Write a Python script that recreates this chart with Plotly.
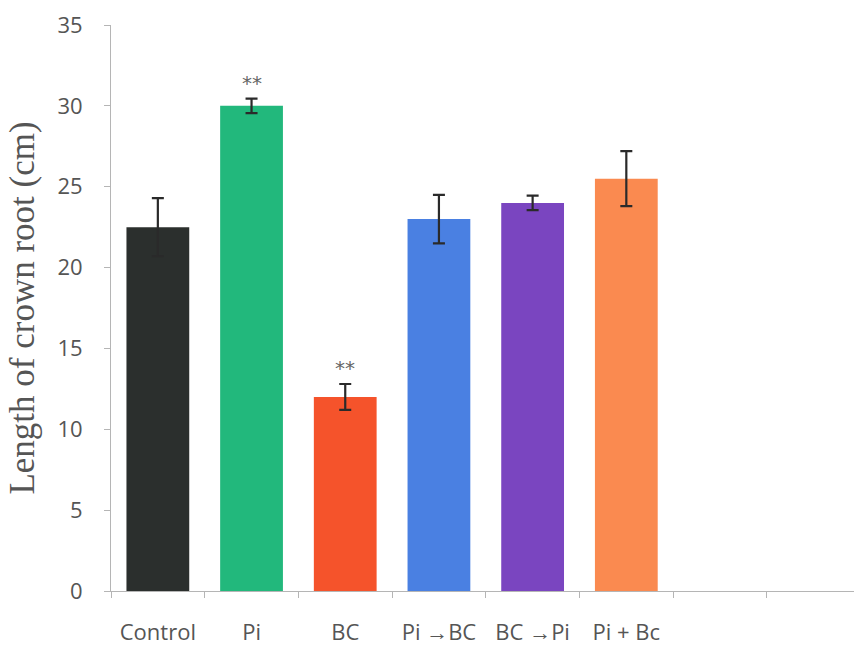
import plotly.graph_objects as go

categories = ["Control", "Pi", "BC", "Pi →BC", "BC →Pi", "Pi + Bc", " ", "  "]
values = [22.5, 30.0, 12.0, 23.0, 24.0, 25.5, None, None]
errors = [1.8, 0.45, 0.8, 1.5, 0.45, 1.7, None, None]
colors = ["#2b2f2d", "#22b87c", "#f5532b", "#4a80e2", "#7a45c0", "#fa8a50", "#ffffff", "#ffffff"]
signif = ["", "**", "**", "", "", "", "", ""]

fig = go.Figure()
fig.add_trace(go.Bar(
    x=categories, y=values,
    marker=dict(color=colors, line=dict(width=0)),
    error_y=dict(type="data", array=errors, color="#2a2a2a", thickness=2.2, width=6),
    showlegend=False,
))

for c, v, e, s in zip(categories, values, errors, signif):
    if s:
        fig.add_annotation(x=c, y=v + e, text=s, showarrow=False, yshift=16,
                           font=dict(family="DejaVu Sans", size=20, color="#666666"))

fig.update_layout(
    width=854, height=649,
    margin=dict(l=111, r=0, t=25, b=58),
    plot_bgcolor="white", paper_bgcolor="white",
    bargap=0.33,
    xaxis=dict(
        range=[-0.5, 7.43], tickson="boundaries", ticks="outside", ticklen=6,
        tickcolor="#b5b5b5", showline=True, linecolor="#b5b5b5", linewidth=1,
        showgrid=False, ticklabelstandoff=22,
        tickfont=dict(family="Open Sans", size=22, color="#555555"),
    ),
    yaxis=dict(
        range=[0, 35], dtick=5, ticks="outside", ticklen=6, tickcolor="#b5b5b5",
        showline=True, linecolor="#b5b5b5", linewidth=1, showgrid=False, zeroline=False,
        ticklabelstandoff=17,
        tickfont=dict(family="Open Sans", size=22, color="#555555"),
        title=dict(text="Length of crown root (cm)", standoff=12,
                   font=dict(family="Liberation Serif", size=35, color="#555555")),
    ),
)

fig.write_html("out.html")
